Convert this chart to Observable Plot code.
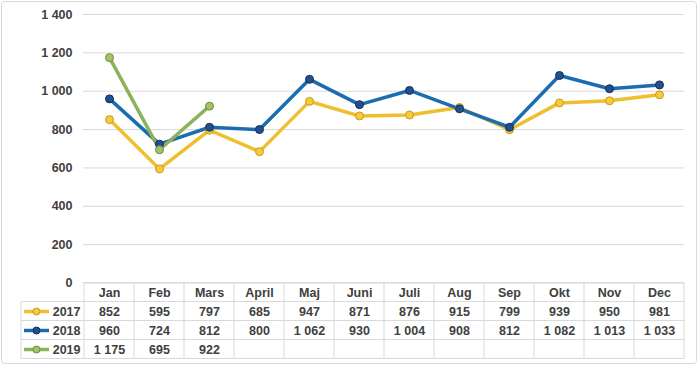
<!DOCTYPE html>
<html><head><meta charset="utf-8">
<script src="https://cdn.jsdelivr.net/npm/d3@7"></script>
<script src="https://cdn.jsdelivr.net/npm/@observablehq/plot@0.6"></script>
<style>
body{margin:0;background:#fff;}
#chart{width:699px;height:366px;}
</style></head><body><div id="chart"></div>
<script>
const months = ["Jan","Feb","Mars","April","Maj","Juni","Juli","Aug","Sep","Okt","Nov","Dec"];
const years = ["2017","2018","2019"];
const v2017 = [852,595,797,685,947,871,876,915,799,939,950,981];
const v2018 = [960,724,812,800,1062,930,1004,908,812,1082,1013,1033];
const v2019 = [1175,695,922];
const yTicks = [0,200,400,600,800,1000,1200,1400];

const series = [v2017, v2018, v2019];
const lineColors = ["#F0BF2E","#1C6DB0","#8DB25A"];
const dotFill = ["#F5CB3C","#21508F","#A3C26A"];
const dotStroke = ["#C79A1C","#152F5E","#6A8C3C"];

const fmt = d => d3.format(",")(d).replace(/,/g, "\u00a0");
const data = years.map((y, i) => series[i].map((v, j) => ({year: y, month: months[j], value: v})));

const font = "'Liberation Sans', Arial, sans-serif";
const textStyle = {fill: "#404040", fontSize: 12.5, fontWeight: "bold"};
const rowDy = [10, 29, 48, 67]; // header, 2017, 2018, 2019 rows below the zero line

const marks = [
  Plot.ruleY(yTicks, {y: d => d, stroke: "#d9d9d9", strokeWidth: 1}),
  Plot.text(yTicks, {y: d => d, text: fmt, frameAnchor: "left", dx: -11, textAnchor: "end", ...textStyle}),
  Plot.text(months, {x: d => d, y: 0, dy: rowDy[0], text: d => d, ...textStyle})
];
years.forEach((yr, i) => {
  marks.push(Plot.line(data[i], {x: "month", y: "value", stroke: lineColors[i], strokeWidth: 3.5, strokeLinejoin: "round", strokeLinecap: "round"}));
});
years.forEach((yr, i) => {
  marks.push(Plot.dot(data[i], {x: "month", y: "value", r: 4, fill: dotFill[i], stroke: dotStroke[i], strokeWidth: 1}));
});
years.forEach((yr, i) => {
  marks.push(Plot.text(data[i], {x: "month", y: 0, dy: rowDy[i + 1], text: d => fmt(d.value), ...textStyle}));
  marks.push(Plot.text([yr], {y: 0, dy: rowDy[i + 1], text: d => d, frameAnchor: "left", dx: -3, textAnchor: "end", ...textStyle}));
});

const plot = Plot.plot({
  width: 699, height: 366,
  marginLeft: 83, marginRight: 15, marginTop: 14, marginBottom: 83.5,
  x: {type: "band", domain: months, padding: 0, axis: null},
  y: {domain: [0, 1400], axis: null},
  style: {fontFamily: font, background: "#fff"},
  marks
});
document.getElementById("chart").appendChild(plot);

// table grid + legend keys, positioned through Plot's scales
const xs = plot.scale("x"), ys = plot.scale("y");
const bw = xs.bandwidth;
const y0 = ys.apply(0);
const rowH = 19;
const x0 = xs.apply(months[0]);
const x1 = xs.apply(months[months.length - 1]) + bw;
const legLeft = 21;
const svg = d3.select(plot);
const g = svg.insert("g", ":first-child").attr("stroke", "#d9d9d9").attr("stroke-width", 1).attr("fill", "none");
g.append("rect").attr("x", 1.5).attr("y", 1.5).attr("width", 695).attr("height", 362).attr("rx", 3);
g.append("line").attr("x1", x0).attr("x2", x1).attr("y1", y0).attr("y2", y0);
for (let r = 1; r <= 4; r++) {
  const yy = y0 + r * rowH;
  g.append("line").attr("x1", legLeft).attr("x2", x1).attr("y1", yy).attr("y2", yy);
}
g.append("line").attr("x1", legLeft).attr("x2", legLeft).attr("y1", y0 + rowH).attr("y2", y0 + 4 * rowH);
months.forEach(m => {
  const xx = xs.apply(m);
  g.append("line").attr("x1", xx).attr("x2", xx).attr("y1", y0).attr("y2", y0 + 4 * rowH);
});
g.append("line").attr("x1", x1).attr("x2", x1).attr("y1", y0).attr("y2", y0 + 4 * rowH);

const lg = svg.append("g");
years.forEach((yr, i) => {
  const cy = y0 + rowDy[i + 1];
  lg.append("line").attr("x1", 24).attr("x2", 49).attr("y1", cy).attr("y2", cy)
    .attr("stroke", lineColors[i]).attr("stroke-width", 3.5);
  lg.append("circle").attr("cx", 36.5).attr("cy", cy).attr("r", 3.5)
    .attr("fill", dotFill[i]).attr("stroke", dotStroke[i]).attr("stroke-width", 1);
});
</script>
</body></html>
